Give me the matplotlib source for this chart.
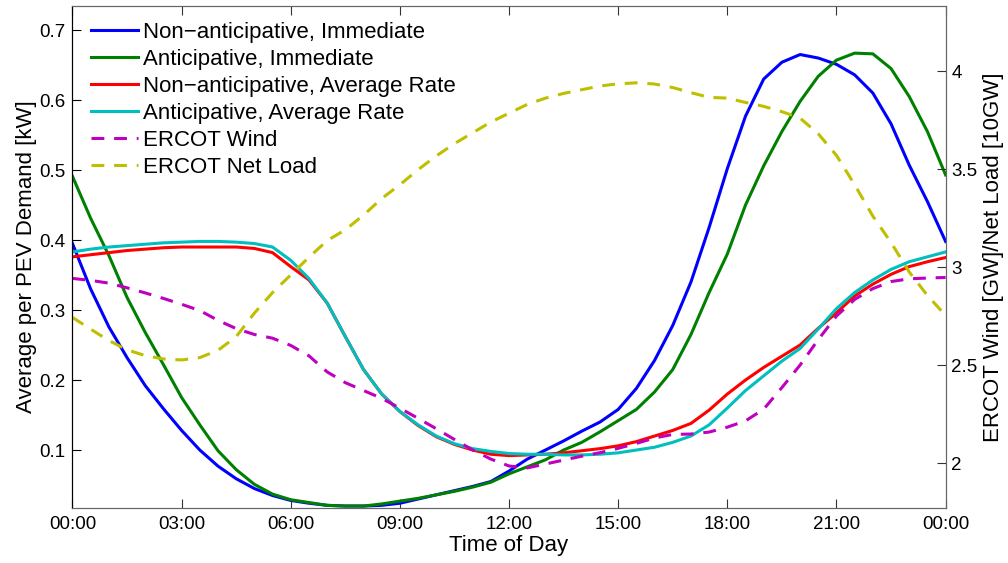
import numpy as np
import matplotlib
matplotlib.use('Agg')
import matplotlib.pyplot as plt

plt.rcParams['font.family'] = ['Liberation Sans', 'DejaVu Sans']

# half-hour grid over one day
hours = np.arange(0, 24.5, 0.5)

non_ant_immediate = [0.395, 0.330, 0.276, 0.232, 0.192, 0.159, 0.128, 0.100, 0.077, 0.059,
                     0.045, 0.035, 0.028, 0.024, 0.021, 0.020, 0.020, 0.021, 0.024, 0.030,
                     0.036, 0.042, 0.048, 0.055, 0.070, 0.087, 0.100, 0.113, 0.127, 0.140,
                     0.158, 0.188, 0.228, 0.278, 0.340, 0.418, 0.502, 0.577, 0.630, 0.654,
                     0.665, 0.660, 0.651, 0.636, 0.610, 0.566, 0.507, 0.455, 0.398]
ant_immediate = [0.491, 0.431, 0.378, 0.318, 0.268, 0.222, 0.175, 0.136, 0.099, 0.072,
                 0.051, 0.037, 0.029, 0.025, 0.021, 0.020, 0.020, 0.023, 0.027, 0.031,
                 0.036, 0.041, 0.047, 0.054, 0.066, 0.076, 0.086, 0.100, 0.111, 0.126,
                 0.142, 0.158, 0.183, 0.215, 0.265, 0.325, 0.380, 0.450, 0.506, 0.555,
                 0.598, 0.634, 0.657, 0.667, 0.666, 0.645, 0.605, 0.555, 0.493]
non_ant_avg = [0.376, 0.379, 0.382, 0.385, 0.387, 0.389, 0.390, 0.390, 0.390, 0.390,
               0.388, 0.382, 0.362, 0.343, 0.310, 0.262, 0.215, 0.180, 0.155, 0.135,
               0.119, 0.108, 0.100, 0.094, 0.092, 0.093, 0.094, 0.096, 0.099, 0.102,
               0.106, 0.112, 0.120, 0.128, 0.138, 0.157, 0.180, 0.200, 0.218, 0.234,
               0.250, 0.274, 0.296, 0.320, 0.337, 0.351, 0.362, 0.369, 0.375]
ant_avg = [0.383, 0.387, 0.390, 0.392, 0.394, 0.396, 0.397, 0.398, 0.398, 0.397,
           0.395, 0.390, 0.371, 0.345, 0.310, 0.262, 0.215, 0.180, 0.155, 0.136,
           0.120, 0.109, 0.102, 0.098, 0.095, 0.094, 0.094, 0.093, 0.093, 0.094,
           0.096, 0.100, 0.104, 0.111, 0.120, 0.136, 0.160, 0.185, 0.206, 0.227,
           0.245, 0.273, 0.302, 0.325, 0.343, 0.358, 0.369, 0.376, 0.383]
ercot_wind = [2.942, 2.932, 2.918, 2.894, 2.868, 2.840, 2.810, 2.778, 2.728, 2.686,
              2.656, 2.637, 2.600, 2.547, 2.465, 2.410, 2.370, 2.330, 2.280, 2.228,
              2.175, 2.120, 2.067, 2.020, 1.985, 1.975, 1.995, 2.015, 2.035, 2.053,
              2.075, 2.100, 2.128, 2.146, 2.148, 2.158, 2.183, 2.215, 2.275, 2.385,
              2.500, 2.630, 2.750, 2.835, 2.890, 2.926, 2.940, 2.944, 2.947]
ercot_net_load = [2.743, 2.683, 2.625, 2.578, 2.548, 2.531, 2.526, 2.538, 2.575, 2.645,
                  2.765, 2.870, 2.960, 3.050, 3.135, 3.190, 3.265, 3.350, 3.420, 3.497,
                  3.567, 3.630, 3.685, 3.740, 3.785, 3.830, 3.862, 3.886, 3.905, 3.924,
                  3.935, 3.940, 3.934, 3.916, 3.890, 3.866, 3.862, 3.840, 3.820, 3.793,
                  3.760, 3.680, 3.570, 3.420, 3.260, 3.125, 2.975, 2.855, 2.753]

xticks = [0, 3, 6, 9, 12, 15, 18, 21, 24]
xticklabels = ['00:00', '03:00', '06:00', '09:00', '12:00', '15:00', '18:00', '21:00', '00:00']

fig = plt.figure(figsize=(10.08, 5.63), dpi=100)
ax1 = fig.add_axes([0.0719, 0.0982, 0.8662, 0.8911])
ax2 = ax1.twinx()

lw = 2.2
l1, = ax1.plot(hours, non_ant_immediate, color='#0000ff', lw=lw, label='Non\u2212anticipative, Immediate')
l2, = ax1.plot(hours, ant_immediate, color='#008000', lw=lw, label='Anticipative, Immediate')
l3, = ax1.plot(hours, non_ant_avg, color='#ff0000', lw=lw, label='Non\u2212anticipative, Average Rate')
l4, = ax1.plot(hours, ant_avg, color='#00bfbf', lw=lw, label='Anticipative, Average Rate')
l5, = ax2.plot(hours, ercot_wind, color='#bf00bf', lw=lw, ls=(0, (4.2, 3.2)), label='ERCOT Wind')
l6, = ax2.plot(hours, ercot_net_load, color='#bfbf00', lw=lw, ls=(0, (4.2, 3.2)), label='ERCOT Net Load')

ax1.set_xlim(0, 24)
ax1.set_ylim(0.0176, 0.7343)
ax2.set_ylim(1.772, 4.332)

ax1.set_xticks(xticks)
ax1.set_xticklabels(xticklabels)
ax1.set_yticks([0.1, 0.2, 0.3, 0.4, 0.5, 0.6, 0.7])
ax2.set_yticks([2, 2.5, 3, 3.5, 4])
ax2.set_yticklabels(['2', '2.5', '3', '3.5', '4'])

ax1.tick_params(axis='x', direction='in', length=6.5, labelsize=13.5, pad=6, top=True, color='#333333')
ax1.tick_params(axis='y', direction='in', length=6.5, labelsize=13.5, pad=5, right=False)
ax2.tick_params(axis='y', direction='in', length=6.5, labelsize=13.5, pad=4, color='#333333')

gray = '#666666'
for ax in (ax1, ax2):
    ax.spines['top'].set_color(gray)
    ax.spines['bottom'].set_color(gray)
    ax.spines['right'].set_color(gray)
    ax.spines['left'].set_color('black')

ax1.set_xlabel('Time of Day', fontsize=16)
ax1.xaxis.set_label_coords(0.5, -0.054)
ax1.set_ylabel('Average per PEV Demand [kW]', fontsize=16)
ax1.yaxis.set_label_coords(-0.041, 0.5)
ax2.set_ylabel('ERCOT Wind [GW]/Net Load [10GW]', fontsize=16)
ax2.yaxis.set_label_coords(1.043, 0.5)

ax2.legend(handles=[l1, l2, l3, l4, l5, l6], loc='upper left', bbox_to_anchor=(0.0208, 0.968),
           frameon=False, fontsize=16, borderpad=0, borderaxespad=0, labelspacing=0.27,
           handlelength=2.15, handletextpad=0.2)

plt.savefig('out.png', dpi=100)
